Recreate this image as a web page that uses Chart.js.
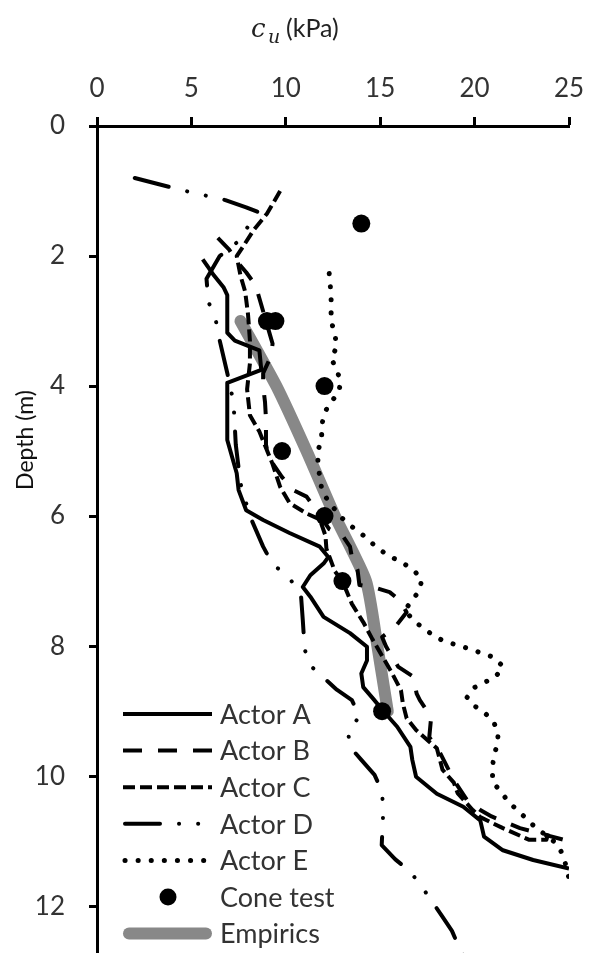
<!DOCTYPE html>
<html>
<head>
<meta charset="utf-8">
<script src="https://cdn.jsdelivr.net/npm/chart.js@4.4.0/dist/chart.umd.min.js"></script>
<style>
html, body { margin: 0; padding: 0; background: #fff; }
#wrap { width: 596px; height: 953px; position: relative; }
canvas { display: block; }
</style>
</head>
<body>
<div id="wrap"><canvas id="cuChart"></canvas></div>
<script>
// [cu (kPa), depth (m)]
var actorA = [[5.6,2.05],[6.2,2.3],[6.7,2.48],[6.9,2.6],[6.9,3.18],[7.3,3.3],[8.6,3.45],[8.7,3.75],[6.9,3.95],[6.9,4.11],[6.9,4.63],[6.9,4.83],[7.4,5.34],[7.5,5.6],[7.9,5.91],[8.8,6.06],[10.2,6.26],[11.8,6.47],[12.25,6.63],[12.0,6.73],[11.3,6.91],[10.9,7.09],[11.3,7.24],[12.0,7.55],[13.4,7.8],[14.3,8.01],[14.3,8.22],[14.0,8.42],[14.1,8.63],[14.6,8.8],[15.2,9.01],[15.9,9.24],[16.6,9.55],[16.7,9.75],[16.9,10.01],[18.0,10.27],[19.4,10.47],[20.3,10.68],[20.5,10.93],[21.5,11.14],[23.1,11.29],[25.0,11.42]];
var actorB = [[6.4,1.72],[7.0,1.9],[7.3,2.05],[7.9,2.25],[8.4,2.45],[8.6,2.65],[9.3,3.35],[9.2,3.55],[8.8,3.8],[8.8,4.0],[8.9,4.25],[8.95,4.5],[8.95,4.9],[9.1,5.1],[9.8,5.4],[10.4,5.6],[11.1,5.7],[11.7,5.95],[12.3,6.2],[13.0,6.3],[13.4,6.47],[13.5,6.63],[13.8,6.83],[13.9,7.06],[14.7,7.1],[15.5,7.17],[16.05,7.3],[16.4,7.48],[15.8,7.7],[15.1,7.86],[15.3,8.0],[15.5,8.1],[15.96,8.32],[16.75,8.47],[16.93,8.73],[17.1,8.83],[17.7,9.09],[17.6,9.4],[18.1,9.6],[18.5,9.83],[18.9,10.06],[19.6,10.37],[20.3,10.52],[20.9,10.62],[22.4,10.8],[25.0,11.0]];
var actorC = [[9.7,1.0],[9.0,1.35],[8.3,1.6],[7.7,1.87],[7.4,2.0],[7.6,2.3],[7.85,2.55],[8.0,2.9],[8.1,3.3],[8.1,3.65],[7.95,4.05],[8.1,4.45],[8.6,4.7],[9.3,5.2],[9.7,5.55],[10.2,5.8],[11.1,5.96],[11.8,6.05],[12.1,6.3],[12.15,6.5],[12.6,6.85],[13.0,7.0],[13.5,7.35],[14.1,7.63],[14.6,7.9],[15.0,8.1],[15.6,8.4],[16.1,8.68],[16.2,8.88],[16.4,9.11],[16.9,9.29],[17.6,9.47],[18.0,9.57],[18.3,9.9],[18.9,10.1],[19.1,10.26],[19.9,10.52],[20.3,10.63],[21.5,10.8],[22.9,10.98],[23.8,10.98],[23.9,10.88]];
var actorD = [[2.0,0.8],[4.4,0.98],[6.8,1.14],[7.9,1.25],[8.5,1.32],[7.5,1.77],[6.5,2.0],[5.8,2.35],[5.9,2.7],[6.3,3.0],[6.5,3.3],[6.9,3.8],[7.1,4.05],[7.25,4.35],[7.35,4.9],[7.6,5.5],[8.1,6.0],[8.8,6.47],[9.3,6.74],[10.1,6.92],[10.8,7.2],[10.9,7.6],[11.0,8.05],[11.3,8.3],[12.7,8.67],[13.5,8.83],[13.9,9.08],[13.3,9.32],[13.4,9.55],[14.0,9.75],[14.7,9.98],[15.1,10.24],[15.16,10.55],[15.08,11.06],[15.8,11.28],[16.6,11.47],[17.2,11.7],[18.25,12.14],[18.8,12.38],[19.2,12.65],[19.5,12.8]];
var actorE = [[12.3,2.27],[12.4,2.6],[12.4,3.0],[12.6,3.2],[12.7,3.4],[12.4,3.57],[12.7,3.75],[12.9,3.93],[12.8,4.11],[12.3,4.27],[12.0,4.45],[11.9,4.63],[11.9,4.81],[11.7,5.0],[11.7,5.2],[11.8,5.4],[11.9,5.58],[12.2,5.75],[12.9,6.01],[13.4,6.14],[14.0,6.27],[14.5,6.4],[15.0,6.52],[15.5,6.62],[16.1,6.7],[16.75,6.83],[17.2,6.96],[17.1,7.14],[16.7,7.29],[16.3,7.45],[16.75,7.6],[17.3,7.73],[17.8,7.83],[18.4,7.93],[19.05,7.98],[19.8,8.05],[20.4,8.11],[21.0,8.17],[21.5,8.31],[21.1,8.48],[20.5,8.56],[19.9,8.65],[19.6,8.79],[20.0,8.92],[20.55,9.03],[21.0,9.16],[21.25,9.34],[21.2,9.52],[21.0,9.7],[20.95,9.89],[20.95,10.09],[21.4,10.24],[21.8,10.4],[22.3,10.53],[22.8,10.67],[23.3,10.81],[23.8,10.91],[24.35,11.04],[24.7,11.22],[25.0,11.57]];
var coneTest = [[14.0,1.5],[9.0,3.0],[9.45,3.0],[12.05,4.0],[9.8,5.0],[12.05,6.0],[13.0,7.0],[15.1,9.0]];
var empirics = [[7.6,3.0],[9.5,4.0],[11.1,5.0],[12.6,6.0],[14.25,7.0],[14.85,8.0],[15.4,9.0]];

var seriesNames = ['Actor A', 'Actor B', 'Actor C', 'Actor D', 'Actor E', 'Cone test', 'Empirics'];
var cuTicks = [0, 5, 10, 15, 20, 25];
var depthTicks = [0, 2, 4, 6, 8, 10, 12];

function pts(arr) {
    return arr.map(function (p) { return { x: p[0], y: p[1] }; });
}

function lineSet(name, arr, dash, cap, width) {
    return {
        label: name,
        data: pts(arr),
        showLine: true,
        borderColor: '#000',
        backgroundColor: '#000',
        borderWidth: width,
        borderDash: dash,
        borderCapStyle: cap,
        borderJoinStyle: 'round',
        pointRadius: 0,
        tension: 0,
        order: 1
    };
}

var datasets = [
    lineSet(seriesNames[0], actorA, [], 'butt', 4),
    lineSet(seriesNames[1], actorB, [19, 16], 'butt', 4),
    lineSet(seriesNames[2], actorC, [12, 5], 'butt', 4),
    lineSet(seriesNames[3], actorD, [35, 19, 0.1, 19, 0.1, 19], 'round', 4),
    lineSet(seriesNames[4], actorE, [0.1, 13], 'round', 5),
    {
        label: seriesNames[5],
        data: pts(coneTest),
        showLine: false,
        pointRadius: 9,
        pointBackgroundColor: '#000',
        pointBorderColor: '#000',
        pointBorderWidth: 0,
        order: 0
    },
    {
        label: seriesNames[6],
        data: pts(empirics),
        showLine: true,
        borderColor: '#888888',
        borderWidth: 12,
        borderCapStyle: 'round',
        borderJoinStyle: 'round',
        pointRadius: 0,
        tension: 0.2,
        order: 2
    }
];

// titles and in-plot legend
var decor = {
    id: 'decor',
    afterDraw: function (chart) {
        var ctx = chart.ctx;
        ctx.save();
        ctx.fillStyle = '#222';
        ctx.textAlign = 'left';
        ctx.textBaseline = 'alphabetic';
        ctx.font = 'italic 26px "DejaVu Serif"';
        ctx.fillText('c', 251, 37);
        ctx.font = 'italic 19px "DejaVu Serif"';
        ctx.fillText('u', 268, 43);
        ctx.font = '25px Lato';
        ctx.fillText('(kPa)', 286, 37);

        ctx.save();
        ctx.translate(26, 440);
        ctx.rotate(-Math.PI / 2);
        ctx.textAlign = 'center';
        ctx.textBaseline = 'middle';
        ctx.font = '23px Lato';
        ctx.fillStyle = '#111';
        ctx.fillText('Depth (m)', 0, 0);
        ctx.restore();

        var x0 = 123, x1 = 212, top = 714, gap = 36.6;
        chart.data.datasets.forEach(function (ds, i) {
            var y = top + i * gap;
            ctx.save();
            if (ds.showLine) {
                ctx.strokeStyle = ds.borderColor;
                ctx.lineWidth = ds.borderWidth;
                ctx.lineCap = ds.borderCapStyle;
                ctx.setLineDash(ds.borderDash || []);
                var pad = ds.borderWidth > 6 ? ds.borderWidth / 2 : 0;
                ctx.beginPath();
                ctx.moveTo(x0 + pad + (ds.borderCapStyle === 'round' && pad === 0 ? 2 : 0), y);
                ctx.lineTo(x1 - pad, y);
                ctx.stroke();
            } else {
                ctx.fillStyle = '#000';
                ctx.beginPath();
                ctx.arc(168, y, 8.5, 0, Math.PI * 2);
                ctx.fill();
            }
            ctx.restore();
            ctx.fillStyle = '#333';
            ctx.font = '27px Lato';
            ctx.textBaseline = 'middle';
            ctx.fillText(ds.label, 220, y + 1);
        });
        ctx.restore();
    }
};

var cuChart = new Chart(document.getElementById('cuChart').getContext('2d'), {
    type: 'scatter',
    data: { datasets: datasets },
    options: {
        responsive: true,
        maintainAspectRatio: false,
        animation: false,
        devicePixelRatio: 1,
        layout: { autoPadding: false, padding: { top: 0, left: 0, right: 27, bottom: 0 } },
        plugins: { legend: { display: false }, tooltip: { enabled: false } },
        scales: {
            x: {
                type: 'linear',
                position: 'top',
                min: 0,
                max: 25,
                afterBuildTicks: function (s) { s.ticks = cuTicks.map(function (v) { return { value: v }; }); },
                afterFit: function (s) { s.height = 126; s.paddingLeft = 0; s.paddingRight = 0; },
                ticks: { font: { family: 'Lato', size: 26 }, color: '#333', padding: 13 },
                grid: { drawOnChartArea: false, tickLength: 9, tickWidth: 3, tickColor: '#000' },
                border: { color: '#000', width: 3 }
            },
            y: {
                type: 'linear',
                reverse: true,
                min: 0,
                max: 12.72,
                afterBuildTicks: function (s) { s.ticks = depthTicks.map(function (v) { return { value: v }; }); },
                afterFit: function (s) { s.width = 97; s.paddingTop = 0; s.paddingBottom = 0; },
                ticks: { font: { family: 'Lato', size: 26 }, color: '#333', padding: 24 },
                grid: { drawOnChartArea: false, tickLength: 8, tickWidth: 3, tickColor: '#000' },
                border: { color: '#000', width: 3 }
            }
        }
    },
    plugins: [decor]
});
</script>
</body>
</html>
